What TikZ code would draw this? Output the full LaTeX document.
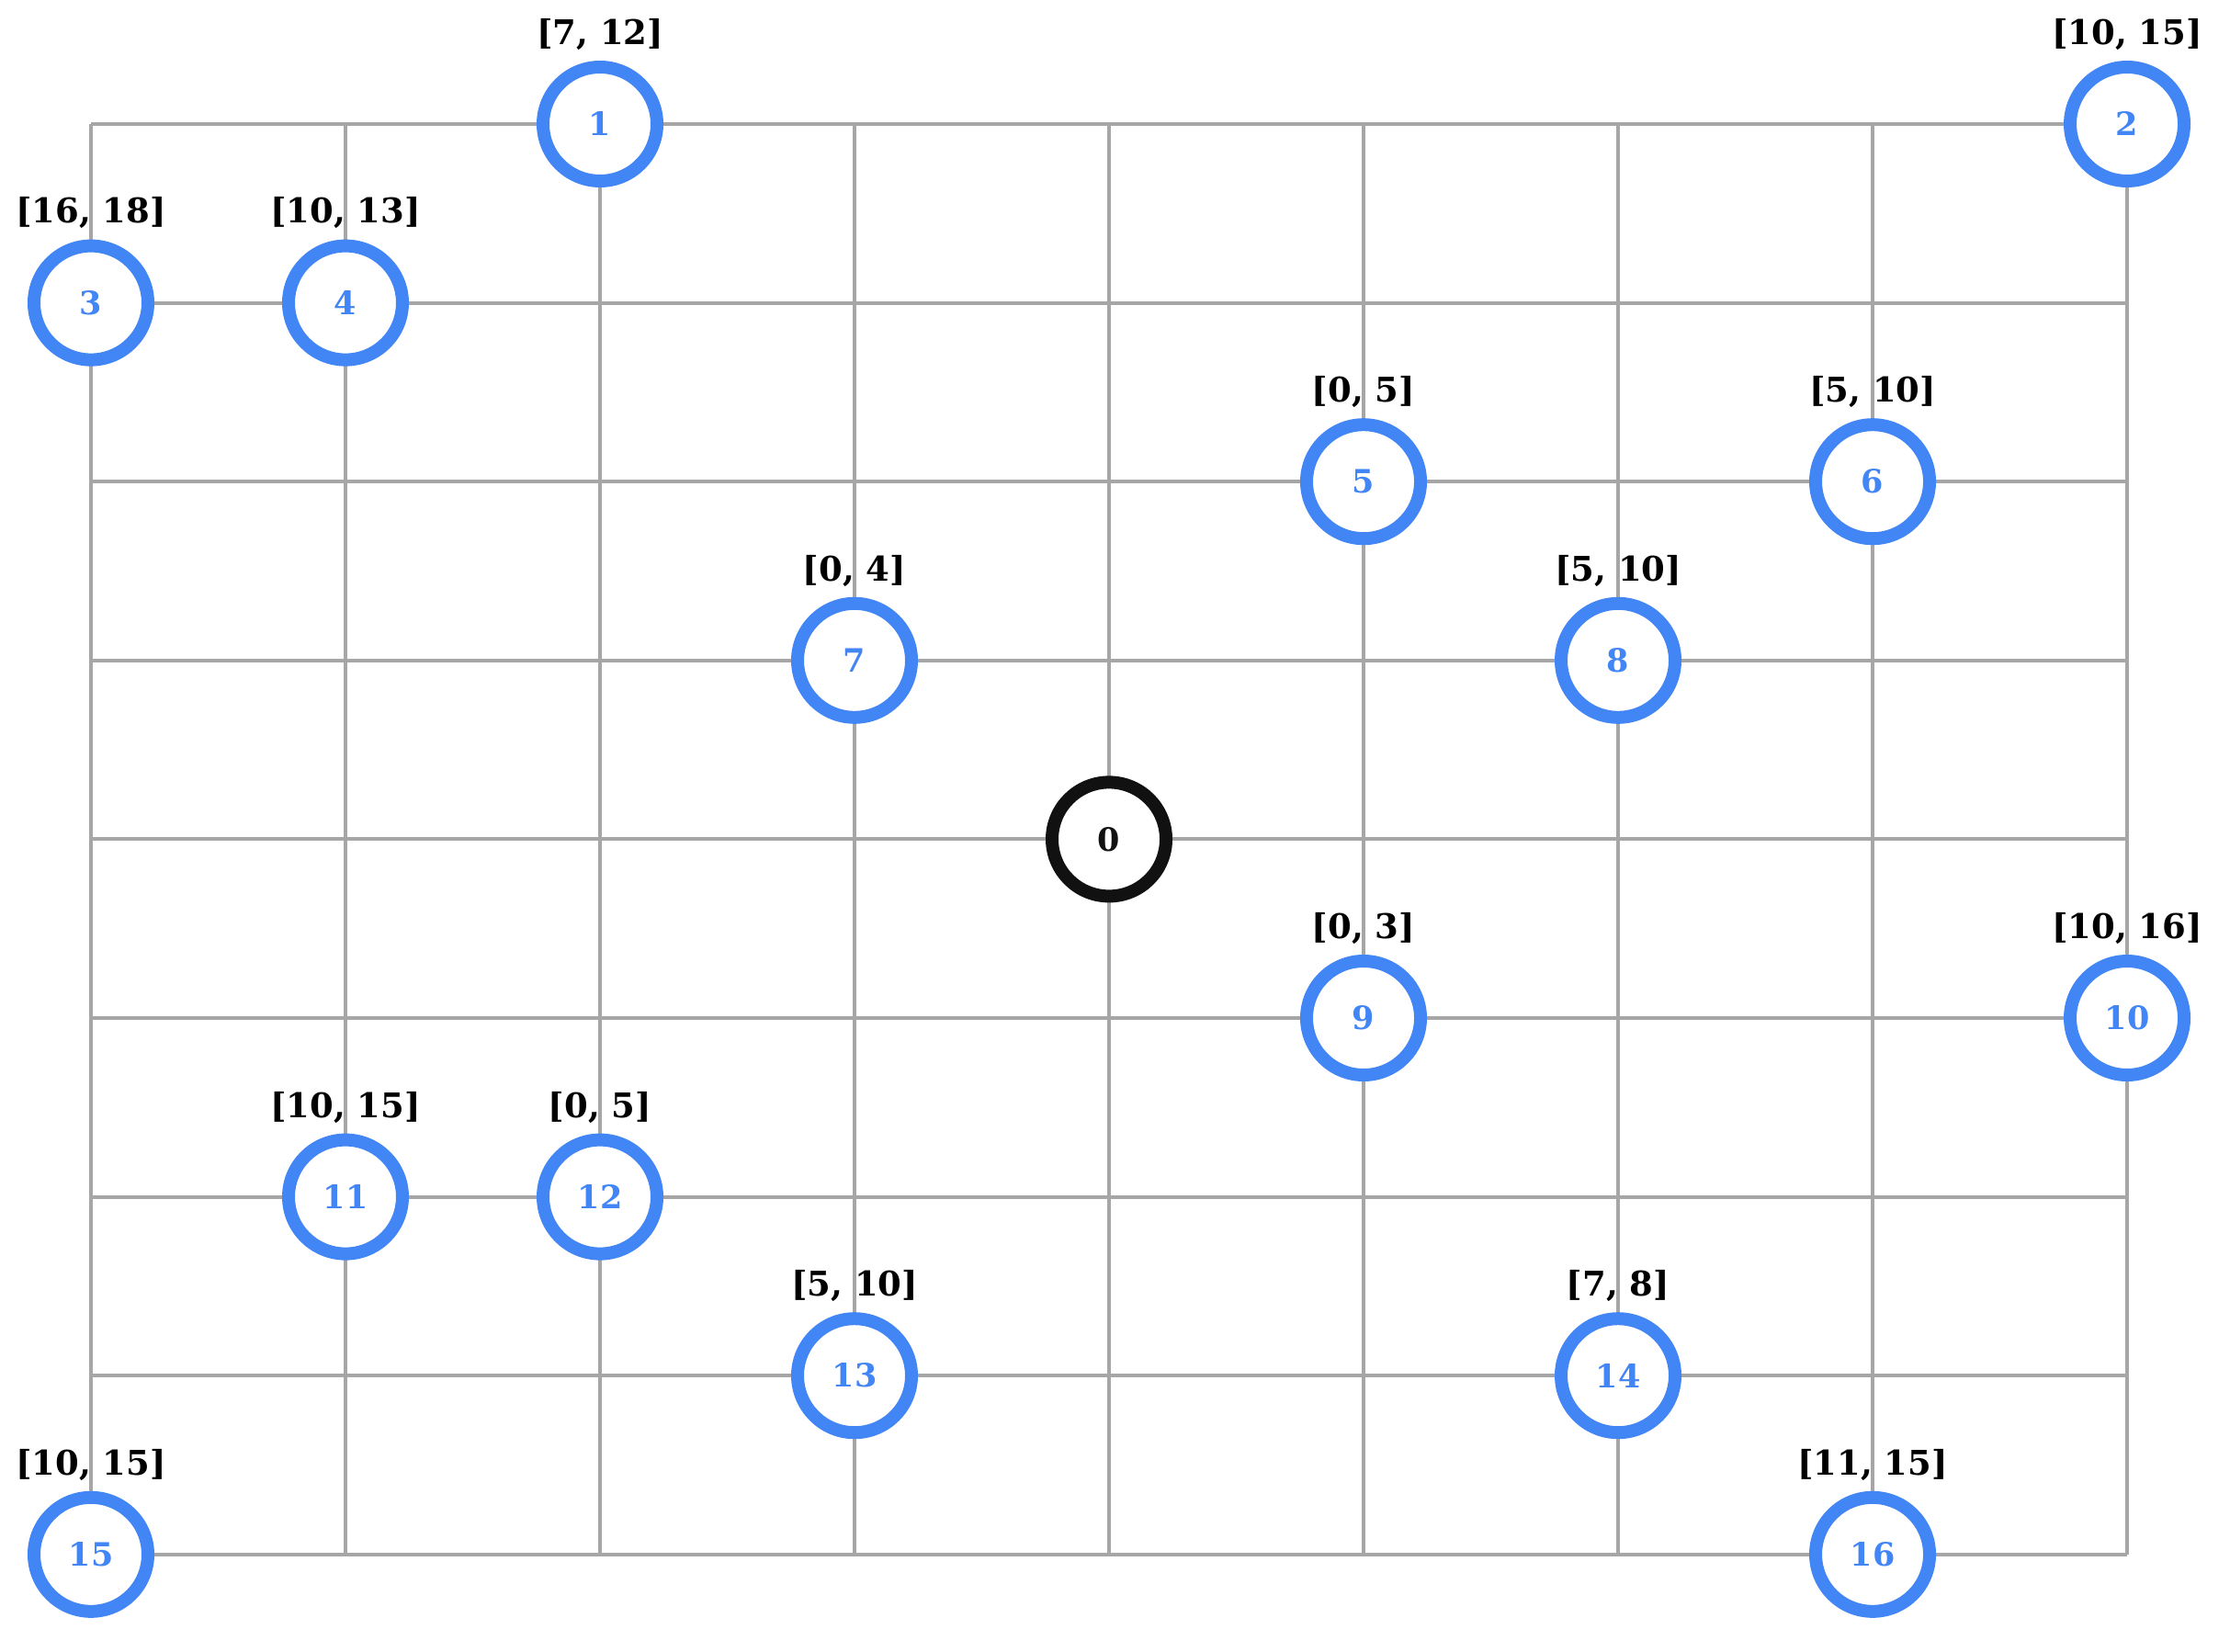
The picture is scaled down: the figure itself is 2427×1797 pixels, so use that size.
\documentclass[tikz,border=0pt]{standalone}
\usepackage{fontspec}
\setmainfont{DejaVu Serif}
\definecolor{nodeblue}{HTML}{4285F4}
\definecolor{gridgray}{HTML}{A6A6A6}
\definecolor{ringblack}{HTML}{111111}
\begin{document}
\begin{tikzpicture}[x=0.25pt,y=-0.25pt,
  gridline/.style={draw=gridgray,line width=1pt},
  task/.style={circle,draw=nodeblue,line width=3.5pt,fill=white,minimum size=31pt,inner sep=0pt,text=nodeblue,font=\fontsize{8.75}{10}\selectfont\bfseries},
  depot/.style={task,draw=ringblack,text=ringblack},
  win/.style={font=\fontsize{9.25}{11}\selectfont\bfseries,text=black,inner sep=0pt}]
\useasboundingbox (0,0) rectangle (2427,1797);
\foreach \i in {0,...,8}{
  \foreach \j in {0,...,8}{
    \coordinate (g\i-\j) at (99+277*\i,135+194.6*\j);
  }
}
\foreach \i in {0,...,8}{
  \draw[gridline] (g\i-0) -- (g\i-8);
  \draw[gridline] (g0-\i) -- (g8-\i);
}
\node[depot] (n0) at (g4-4) {0};
\foreach \n/\c/\r/\w in {
  1/2/0/{[7, 12]},
  2/8/0/{[10, 15]},
  3/0/1/{[16, 18]},
  4/1/1/{[10, 13]},
  5/5/2/{[0, 5]},
  6/7/2/{[5, 10]},
  7/3/3/{[0, 4]},
  8/6/3/{[5, 10]},
  9/5/5/{[0, 3]},
  10/8/5/{[10, 16]},
  11/1/6/{[10, 15]},
  12/2/6/{[0, 5]},
  13/3/7/{[5, 10]},
  14/6/7/{[7, 8]},
  15/0/8/{[10, 15]},
  16/7/8/{[11, 15]}}{
  \node[task] (n\n) at (g\c-\r) {\n};
  \node[win] (w\n) at ([yshift=24.4pt]n\n.center) {\w};
}
\end{tikzpicture}
\end{document}
